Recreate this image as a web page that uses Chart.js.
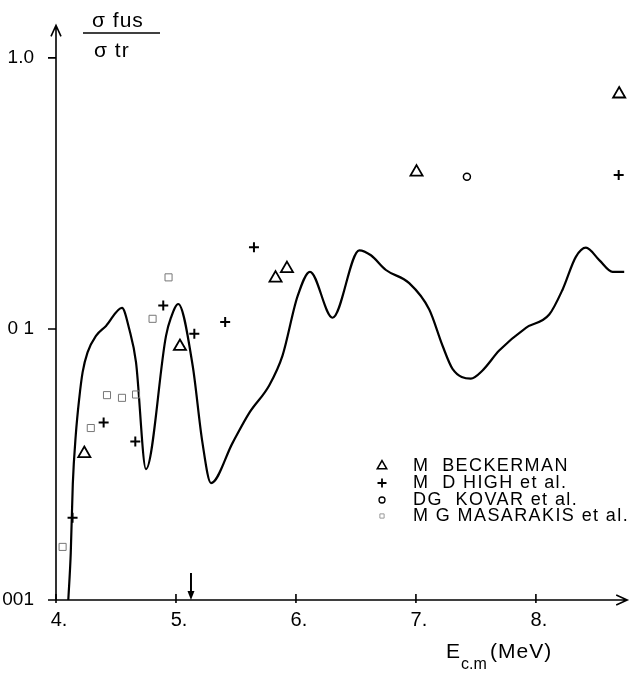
<!DOCTYPE html>
<html>
<head>
<meta charset="utf-8">
<script src="https://cdn.jsdelivr.net/npm/chart.js@4/dist/chart.umd.min.js"></script>
<style>
  html, body { margin: 0; padding: 0; background: #fff; }
  #wrap { width: 636px; height: 676px; }
</style>
</head>
<body>
<div id="wrap"><canvas id="fusion"></canvas></div>
<script>
// smooth theoretical curve, sigma_fus / sigma_tr vs E c.m (MeV)
var curveE = [4.1025, 4.123, 4.140, 4.165, 4.194, 4.222, 4.263, 4.333, 4.417, 4.55, 4.611, 4.667, 4.75, 4.917, 4.958, 5.019, 5.139, 5.219, 5.292, 5.472, 5.611, 5.778, 5.888, 6.013, 6.117, 6.305, 6.528, 6.625, 6.75, 6.944, 7.111, 7.222, 7.305, 7.458, 7.555, 7.694, 7.917, 8.111, 8.222, 8.333, 8.417, 8.528, 8.639, 8.736];
var curveR = [0.0100, 0.0149, 0.0268, 0.0407, 0.0556, 0.0693, 0.082, 0.0943, 0.1026, 0.1197, 0.0997, 0.0753, 0.0304, 0.0943, 0.110, 0.1236, 0.0733, 0.0385, 0.0270, 0.038, 0.049, 0.062, 0.0797, 0.1318, 0.1625, 0.110, 0.195, 0.187, 0.165, 0.1476, 0.118, 0.0867, 0.0713, 0.0656, 0.0703, 0.0832, 0.101, 0.113, 0.1396, 0.1845, 0.1995, 0.1795, 0.1625, 0.1625];

// measured points
var beckermanE = [4.236, 5.033, 5.83, 5.925, 7.005, 8.694];
var beckermanR = [0.0347, 0.0862, 0.154, 0.167, 0.379, 0.736];
var highE = [4.138, 4.397, 4.661, 4.894, 5.153, 5.41, 5.65, 8.69];
var highR = [0.0201, 0.0452, 0.0384, 0.122, 0.096, 0.106, 0.200, 0.370];
var kovarE = [7.425];
var kovarR = [0.364];
var masarakisE = [4.055, 4.29, 4.425, 4.55, 4.667, 4.805, 4.938];
var masarakisR = [0.0157, 0.0431, 0.057, 0.0557, 0.0573, 0.109, 0.155];

var xTicks = [4, 5, 6, 7, 8];
var xLabels = ["4.", "5.", "6.", "7.", "8."];
var yTicks = [0.01, 0.1, 1];
var yLabels = ["001", "0 1", "1.0"];
var arrowAt = [5.125];

var legendNames = ["M  BECKERMAN", "M  D HIGH et al.", "DG  KOVAR et al.", "M G MASARAKIS et al."];

var FONT = "'Liberation Sans', Arial, sans-serif";

function pts(xs, ys) {
  return xs.map(function(x, i) { return { x: x, y: ys[i] }; });
}

var decor = {
  id: "decor",
  afterDraw: function(chart) {
    var ctx = chart.ctx;
    var a = chart.chartArea;
    var xs = chart.scales.x, ys = chart.scales.y;
    ctx.save();
    ctx.strokeStyle = "#000";
    ctx.fillStyle = "#000";
    ctx.lineWidth = 1.6;

    // axes with arrows
    ctx.beginPath();
    ctx.moveTo(a.left, a.bottom);
    ctx.lineTo(a.left, a.top);
    ctx.moveTo(a.left - 5, a.top + 11);
    ctx.lineTo(a.left, a.top);
    ctx.lineTo(a.left + 5, a.top + 11);
    ctx.moveTo(a.left, a.bottom);
    ctx.lineTo(a.right, a.bottom);
    ctx.moveTo(a.right - 11, a.bottom - 5);
    ctx.lineTo(a.right, a.bottom);
    ctx.lineTo(a.right - 11, a.bottom + 5);
    ctx.stroke();

    // tick marks
    ctx.beginPath();
    yTicks.forEach(function(v) {
      var y = ys.getPixelForValue(v);
      ctx.moveTo(a.left - 8, y);
      ctx.lineTo(a.left, y);
    });
    xTicks.forEach(function(v) {
      var x = xs.getPixelForValue(v);
      ctx.moveTo(x, a.bottom - 6);
      ctx.lineTo(x, a.bottom + 3);
    });
    ctx.stroke();

    // downward arrow on the energy axis
    arrowAt.forEach(function(v) {
      var x = xs.getPixelForValue(v);
      ctx.beginPath();
      ctx.lineWidth = 2;
      ctx.moveTo(x, a.bottom - 27);
      ctx.lineTo(x, a.bottom - 6);
      ctx.stroke();
      ctx.beginPath();
      ctx.moveTo(x - 3.5, a.bottom - 9);
      ctx.lineTo(x + 3.5, a.bottom - 9);
      ctx.lineTo(x, a.bottom);
      ctx.closePath();
      ctx.fill();
    });

    // y title as fraction
    ctx.font = "21px " + FONT;
    ctx.textAlign = "left";
    ctx.textBaseline = "alphabetic";
    ctx.letterSpacing = "1px";
    ctx.fillText("\u03c3 fus", 92, 27);
    ctx.fillText("\u03c3 tr", 94, 57);
    ctx.beginPath();
    ctx.lineWidth = 1.5;
    ctx.moveTo(83, 33);
    ctx.lineTo(160, 33);
    ctx.stroke();

    // x title with subscript
    ctx.font = "21px " + FONT;
    ctx.fillText("E", 446, 658);
    ctx.letterSpacing = "0px";
    ctx.font = "16px " + FONT;
    ctx.fillText("c.m", 461, 669);
    ctx.letterSpacing = "1px";
    ctx.font = "21px " + FONT;
    ctx.fillText("(MeV)", 490, 658);

    // legend
    var styles = [
      { pointStyle: "triangle", radius: 5.5, borderWidth: 1.5, color: "#000" },
      { pointStyle: "cross", radius: 4.5, borderWidth: 1.8, color: "#000" },
      { pointStyle: "circle", radius: 3, borderWidth: 1.3, color: "#000" },
      { pointStyle: "rect", radius: 3, borderWidth: 1, color: "#999" }
    ];
    var rowsY = [466, 483, 500, 516];
    ctx.font = "18px " + FONT;
    ctx.letterSpacing = "1.4px";
    ctx.textBaseline = "middle";
    legendNames.forEach(function(name, i) {
      var s = styles[i];
      ctx.strokeStyle = s.color;
      ctx.fillStyle = "rgba(0,0,0,0)";
      ctx.lineWidth = s.borderWidth;
      Chart.helpers.drawPoint(ctx, { pointStyle: s.pointStyle, radius: s.radius, rotation: 0, borderWidth: s.borderWidth }, 382, rowsY[i]);
      ctx.fillStyle = "#000";
      ctx.fillText(name, 413, rowsY[i]);
    });
    ctx.restore();
  }
};

var ctx = document.getElementById("fusion").getContext("2d");
var chart = new Chart(ctx, {
  type: "scatter",
  data: {
    datasets: [
      {
        label: "theory",
        data: pts(curveE, curveR),
        showLine: true,
        borderColor: "#000",
        borderWidth: 2.2,
        pointRadius: 0,
        cubicInterpolationMode: "monotone",
        order: 5
      },
      {
        label: "M BECKERMAN",
        data: pts(beckermanE, beckermanR),
        pointStyle: "triangle",
        pointRadius: 7,
        borderColor: "#000",
        backgroundColor: "rgba(0,0,0,0)",
        borderWidth: 1.8
      },
      {
        label: "M D HIGH et al.",
        data: pts(highE, highR),
        pointStyle: "cross",
        pointRadius: 5,
        borderColor: "#000",
        borderWidth: 2
      },
      {
        label: "DG KOVAR et al.",
        data: pts(kovarE, kovarR),
        pointStyle: "circle",
        pointRadius: 3.5,
        borderColor: "#000",
        backgroundColor: "rgba(0,0,0,0)",
        borderWidth: 1.5
      },
      {
        label: "M G MASARAKIS et al.",
        data: pts(masarakisE, masarakisR),
        pointStyle: "rect",
        pointRadius: 5,
        borderColor: "#777",
        backgroundColor: "rgba(0,0,0,0)",
        borderWidth: 1
      }
    ]
  },
  options: {
    responsive: true,
    maintainAspectRatio: false,
    animation: false,
    events: [],
    layout: { padding: { top: 18, right: 8, left: 0, bottom: 0 } },
    plugins: {
      legend: { display: false },
      tooltip: { enabled: false }
    },
    scales: {
      x: {
        type: "linear",
        min: 4,
        max: 8.761,
        afterFit: function(s) { s.height = 76; },
        afterBuildTicks: function(s) { s.ticks = xTicks.map(function(v) { return { value: v }; }); },
        grid: { display: false },
        border: { display: false },
        ticks: {
          color: "#000",
          font: { family: FONT, size: 20 },
          padding: 0,
          labelOffset: 3,
          maxRotation: 0,
          callback: function(v) { return xLabels[xTicks.indexOf(v)]; }
        }
      },
      y: {
        type: "logarithmic",
        min: 0.01,
        max: 1.318,
        afterFit: function(s) { s.width = 56; },
        afterBuildTicks: function(s) { s.ticks = yTicks.map(function(v) { return { value: v }; }); },
        grid: { display: false },
        border: { display: false },
        ticks: {
          color: "#000",
          font: { family: FONT, size: 19 },
          padding: 14,
          callback: function(v) { return yLabels[yTicks.indexOf(v)]; }
        }
      }
    }
  },
  plugins: [decor]
});
</script>
</body>
</html>
